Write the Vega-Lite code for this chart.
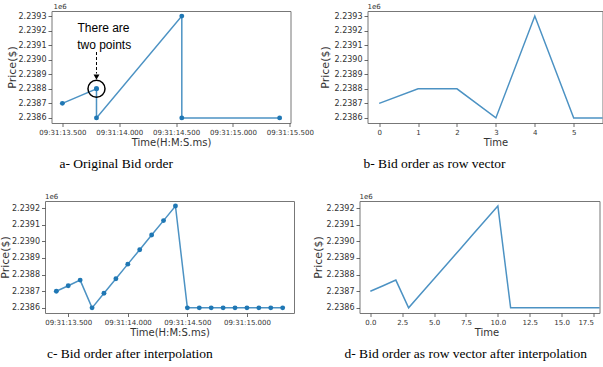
{
  "$schema": "https://vega.github.io/schema/vega-lite/v6.json",
  "background": "white",
  "padding": {"left": -19.5, "top": 2, "right": 0, "bottom": 0},
  "datasets": {
    "orig": [
      {"idx": 0, "sec": 13.5, "price": 2238700},
      {"idx": 1, "sec": 13.8, "price": 2238800},
      {"idx": 2, "sec": 13.8, "price": 2238800},
      {"idx": 3, "sec": 13.8, "price": 2238600},
      {"idx": 4, "sec": 14.55, "price": 2239300},
      {"idx": 5, "sec": 14.55, "price": 2238600},
      {"idx": 6, "sec": 15.41, "price": 2238600}
    ],
    "interp": [
      {"idx": 0, "sec": 13.4, "price": 2238700},
      {"idx": 1, "sec": 13.5, "price": 2238733},
      {"idx": 2, "sec": 13.6, "price": 2238767},
      {"idx": 3, "sec": 13.7, "price": 2238600},
      {"idx": 4, "sec": 13.8, "price": 2238688},
      {"idx": 5, "sec": 13.9, "price": 2238775},
      {"idx": 6, "sec": 14.0, "price": 2238863},
      {"idx": 7, "sec": 14.1, "price": 2238950},
      {"idx": 8, "sec": 14.2, "price": 2239038},
      {"idx": 9, "sec": 14.3, "price": 2239125},
      {"idx": 10, "sec": 14.4, "price": 2239213},
      {"idx": 11, "sec": 14.5, "price": 2238600},
      {"idx": 12, "sec": 14.6, "price": 2238600},
      {"idx": 13, "sec": 14.7, "price": 2238600},
      {"idx": 14, "sec": 14.8, "price": 2238600},
      {"idx": 15, "sec": 14.9, "price": 2238600},
      {"idx": 16, "sec": 15.0, "price": 2238600},
      {"idx": 17, "sec": 15.1, "price": 2238600},
      {"idx": 18, "sec": 15.2, "price": 2238600},
      {"idx": 19, "sec": 15.3, "price": 2238600}
    ]
  },
  "spacing": 21,
  "vconcat": [
    {
      "spacing": 4,
      "hconcat": [
        {"width": 20.5, "height": 10, "data": {"values": [{"label": ""}]}, "mark": {"type": "text", "text": ""}, "view": {"stroke": null}},
        {
          "width": 239, "height": 112,
          "title": {"text": "a- Original Bid order", "dx": 8, "offset": 10},
          "encoding": {
            "x": {"field": "sec", "type": "quantitative",
              "scale": {"domain": [13.4045, 15.5055], "nice": false, "zero": false},
              "axis": {"title": "Time(H:M:S.ms)", "labelOverlap": false, "values": [13.5, 14, 14.5, 15, 15.5],
                "labelExpr": "'09:31:' + format(datum.value, '06.3f')"}},
            "y": {"field": "price", "type": "quantitative",
              "scale": {"domain": [2238565, 2239335], "nice": false, "zero": false},
              "axis": {"title": "Price($)", "titleX": -34, "values": [2238600, 2238700, 2238800, 2238900, 2239000, 2239100, 2239200, 2239300], "labelExpr": "format(datum.value / 1000000, '.4f')"}}
          },
          "layer": [
            {"data": {"name": "orig"}, "mark": {"type": "line", "color": "#1f77b4", "strokeWidth": 1.5, "opacity": 0.8}, "encoding": {"order": {"field": "idx", "type": "quantitative"}}},
            {"data": {"name": "orig"}, "mark": {"type": "point", "filled": true, "color": "#1f77b4", "size": 24, "opacity": 1}},
            {"data": {"values": [
                {"sec": 13.633, "price": 2239218, "label": "There are"},
                {"sec": 13.630, "price": 2239101, "label": "two points"}]},
             "mark": {"type": "text", "align": "left", "baseline": "middle", "font": "Liberation Sans", "fontSize": 12, "color": "black"},
             "encoding": {"text": {"field": "label"}}},
            {"data": {"values": [{"sec": 13.8, "price": 2239053, "price2": 2238905}]},
             "mark": {"type": "rule", "color": "black", "strokeDash": [3, 2], "strokeWidth": 1},
             "encoding": {"y2": {"field": "price2"}}},
            {"data": {"values": [{"sec": 13.8, "price": 2238880}]},
             "mark": {"type": "point", "shape": "triangle-down", "filled": true, "color": "black", "size": 35, "opacity": 1}},
            {"data": {"values": [{"sec": 13.8, "price": 2238800}]},
             "mark": {"type": "point", "shape": "circle", "filled": false, "color": "black", "strokeWidth": 1.5, "size": 290, "opacity": 1}},
            {"data": {"values": [{"sec": 13.4045, "price": 2239335, "label": "1e6"}]},
             "mark": {"type": "text", "align": "left", "baseline": "bottom", "dy": -1, "dx": 2, "fontSize": 7, "color": "#333"},
             "encoding": {"text": {"field": "label"}}}
          ]
        },
        {
          "width": 235, "height": 112,
          "title": {"text": "b- Bid order as row vector", "dx": -4, "offset": 10},
          "encoding": {
            "x": {"field": "idx", "type": "quantitative",
              "scale": {"domain": [-0.3, 5.74], "nice": false, "zero": false},
              "axis": {"title": "Time", "titleX": 128, "labelOverlap": false, "values": [0, 1, 2, 3, 4, 5]}},
            "y": {"field": "price", "type": "quantitative",
              "scale": {"domain": [2238565, 2239335], "nice": false, "zero": false},
              "axis": {"title": "Price($)", "titleX": -37, "values": [2238600, 2238700, 2238800, 2238900, 2239000, 2239100, 2239200, 2239300], "labelExpr": "format(datum.value / 1000000, '.4f')"}}
          },
          "layer": [
            {"data": {"name": "orig"}, "mark": {"type": "line", "color": "#1f77b4", "strokeWidth": 1.5, "opacity": 0.8, "clip": true}},
            {"data": {"values": [{"idx": -0.3, "price": 2239335, "label": "1e6"}]},
             "mark": {"type": "text", "align": "left", "baseline": "bottom", "dy": -1, "fontSize": 7, "color": "#333"},
             "encoding": {"text": {"field": "label"}}}
          ]
        }
      ]
    },
    {
      "spacing": 16.5,
      "hconcat": [
        {"width": 1, "height": 10, "data": {"values": [{"label": ""}]}, "mark": {"type": "text", "text": ""}, "view": {"stroke": null}},
        {
          "width": 249, "height": 112,
          "title": {"text": "c- Bid order after interpolation", "dx": 2, "offset": 10},
          "encoding": {
            "x": {"field": "sec", "type": "quantitative",
              "scale": {"domain": [13.305, 15.395], "nice": false, "zero": false},
              "axis": {"title": "Time(H:M:S.ms)", "labelOverlap": false, "values": [13.5, 14, 14.5, 15],
                "labelExpr": "'09:31:' + format(datum.value, '06.3f')"}},
            "y": {"field": "price", "type": "quantitative",
              "scale": {"domain": [2238569, 2239243], "nice": false, "zero": false},
              "axis": {"title": "Price($)", "titleX": -35, "values": [2238600, 2238700, 2238800, 2238900, 2239000, 2239100, 2239200], "labelExpr": "format(datum.value / 1000000, '.4f')"}}
          },
          "layer": [
            {"data": {"name": "interp"}, "mark": {"type": "line", "color": "#1f77b4", "strokeWidth": 1.5, "opacity": 0.8}},
            {"data": {"name": "interp"}, "mark": {"type": "point", "filled": true, "color": "#1f77b4", "size": 24, "opacity": 1}},
            {"data": {"values": [{"sec": 13.305, "price": 2239243, "label": "1e6"}]},
             "mark": {"type": "text", "align": "left", "baseline": "bottom", "dy": -1, "fontSize": 7, "color": "#333"},
             "encoding": {"text": {"field": "label"}}}
          ]
        },
        {
          "width": 240, "height": 112,
          "title": {"text": "d- Bid order as row vector after interpolation", "dx": -15, "offset": 10},
          "encoding": {
            "x": {"field": "idx", "type": "quantitative",
              "scale": {"domain": [-0.85, 17.97], "nice": false, "zero": false},
              "axis": {"title": "Time", "titleX": 127, "format": ".1f", "labelFlush": 7, "labelOverlap": false, "values": [0, 2.5, 5, 7.5, 10, 12.5, 15, 17.5]}},
            "y": {"field": "price", "type": "quantitative",
              "scale": {"domain": [2238569, 2239243], "nice": false, "zero": false},
              "axis": {"title": "Price($)", "titleX": -36, "values": [2238600, 2238700, 2238800, 2238900, 2239000, 2239100, 2239200], "labelExpr": "format(datum.value / 1000000, '.4f')"}}
          },
          "layer": [
            {"data": {"name": "interp"}, "mark": {"type": "line", "color": "#1f77b4", "strokeWidth": 1.5, "opacity": 0.8, "clip": true}},
            {"data": {"values": [{"idx": -0.85, "price": 2239243, "label": "1e6"}]},
             "mark": {"type": "text", "align": "left", "baseline": "bottom", "dy": -1, "fontSize": 7, "color": "#333"},
             "encoding": {"text": {"field": "label"}}}
          ]
        }
      ]
    }
  ],
  "config": {
    "font": "DejaVu Sans",
    "view": {"stroke": "#777", "strokeWidth": 1},
    "axis": {"domain": false, "grid": false, "ticks": true, "tickSize": 3.5, "tickColor": "#444", "tickWidth": 0.8,
      "labelFont": "DejaVu Sans", "labelColor": "#333", "labelFlush": false, "labelOverlap": false,
      "titleFont": "DejaVu Sans", "titleFontWeight": "normal", "titleColor": "#333"},
    "axisX": {"labelFontSize": 7, "titleFontSize": 10, "labelPadding": 1.5, "titlePadding": 2},
    "axisY": {"labelFontSize": 8, "titleFontSize": 11, "labelPadding": 2},
    "title": {"orient": "bottom", "anchor": "start", "frame": "group", "font": "Liberation Serif", "fontSize": 13.5, "fontWeight": "normal", "color": "#000"}
  }
}
